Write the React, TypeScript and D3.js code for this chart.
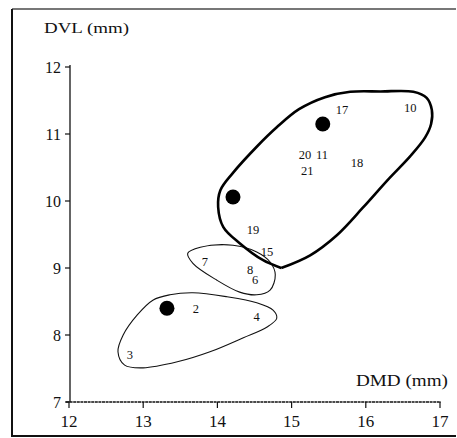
import React from "react";
import * as d3 from "d3";

const W = 457;
const H = 438;

const xTicks = [12, 13, 14, 15, 16, 17];
const yTicks = [7, 8, 9, 10, 11, 12];

// Contour of group A (thick outline), from the lower vertex around and back
const groupA: [number, number][] = [
  [14.86, 9.0], [15.25, 9.19], [15.61, 9.49], [15.96, 9.9], [16.3, 10.32],
  [16.6, 10.67], [16.8, 10.95], [16.88, 11.15], [16.89, 11.36],
  [16.82, 11.54], [16.64, 11.63], [16.2, 11.635], [15.79, 11.63], [15.45, 11.55],
  [15.1, 11.37], [14.8, 11.1], [14.53, 10.81], [14.21, 10.42], [14.04, 10.16],
  [14.01, 9.91], [14.08, 9.61], [14.3, 9.37], [14.61, 9.12], [14.86, 9.0],
];

// Contour of group B (7, 8, 6)
const groupB: [number, number][] = [
  [13.6, 9.22], [13.77, 9.31], [14.21, 9.34], [14.53, 9.24], [14.71, 9.09],
  [14.78, 8.9], [14.71, 8.67], [14.53, 8.6], [14.3, 8.64], [13.99, 8.82],
  [13.67, 9.07],
];

// Contour of group C (2, 4, 3)
const groupC: [number, number][] = [
  [12.66, 7.75], [12.75, 7.55], [13.0, 7.51], [13.46, 7.6], [13.9, 7.75],
  [14.35, 7.96], [14.67, 8.12], [14.8, 8.25], [14.75, 8.37], [14.53, 8.48],
  [14.13, 8.57], [13.67, 8.63], [13.36, 8.6], [13.13, 8.52], [12.92, 8.3],
  [12.73, 8.0],
];

// Filled dots
const dots: [number, number][] = [
  [13.32, 8.4], [14.21, 10.06], [15.42, 11.15],
];

// Specimen numbers
const labelText = ["17", "10", "20", "11", "21", "18", "19", "15", "8", "6", "7", "2", "4", "3"];
const labelX = [15.68, 16.6, 15.18, 15.41, 15.21, 15.88, 14.48, 14.67, 14.44, 14.51, 13.83, 13.71, 14.53, 12.82];
const labelY = [11.37, 11.4, 10.69, 10.69, 10.45, 10.57, 9.57, 9.24, 8.97, 8.82, 9.09, 8.39, 8.28, 7.7];

export default function App() {
  const x = d3.scaleLinear().domain([12, 17]).range([69, 440]);
  const y = d3.scaleLinear().domain([7, 12]).range([402, 67]);

  const openLine = d3
    .line<[number, number]>()
    .x((d) => x(d[0]))
    .y((d) => y(d[1]))
    .curve(d3.curveCatmullRom.alpha(0.5));
  const closedLine = d3
    .line<[number, number]>()
    .x((d) => x(d[0]))
    .y((d) => y(d[1]))
    .curve(d3.curveCatmullRomClosed.alpha(0.5));

  const font = "'Liberation Serif', 'Times New Roman', serif";

  return (
    <div style={{ position: "absolute", left: 0, top: 0 }}>
      <svg width={W} height={H} style={{ display: "block" }}>
        <rect x={0} y={0} width={W} height={H} fill="#fff" />
        {/* frame */}
        <line x1={12} y1={9} x2={W - 1} y2={9} stroke="#777" strokeWidth={2} />
        <line x1={12} y1={9} x2={12} y2={437} stroke="#111" strokeWidth={2} />
        <line x1={12} y1={436} x2={W - 1} y2={436} stroke="#111" strokeWidth={2} />

        {/* y axis */}
        <line x1={70} y1={65} x2={70} y2={402} stroke="#111" strokeWidth={1.3} />
        {yTicks.map((t) => (
          <g key={"y" + t}>
            <line x1={65} x2={70} y1={y(t)} y2={y(t)} stroke="#111" strokeWidth={1.2} />
            <text
              x={61}
              y={y(t)}
              dy="0.35em"
              textAnchor="end"
              fontFamily={font}
              fontSize={16}
              fill="#111"
            >
              {t}
            </text>
          </g>
        ))}

        {/* x axis */}
        <line x1={66} y1={402} x2={441} y2={402} stroke="#111" strokeWidth={1.3} strokeDasharray="3 0.6" />
        {xTicks.map((t) => (
          <g key={"x" + t}>
            <line x1={x(t)} x2={x(t)} y1={402} y2={408} stroke="#111" strokeWidth={1.2} />
            <text
              x={x(t)}
              y={427}
              textAnchor="middle"
              fontFamily={font}
              fontSize={17}
              fill="#111"
            >
              {t}
            </text>
          </g>
        ))}

        {/* axis titles */}
        <text x={44} y={33} fontFamily={font} fontSize={14} textLength={85} lengthAdjust="spacingAndGlyphs" fill="#111">
          DVL (mm)
        </text>
        <text x={356} y={386} fontFamily={font} fontSize={16} textLength={92} lengthAdjust="spacingAndGlyphs" fill="#111">
          DMD (mm)
        </text>

        {/* contours */}
        <path d={closedLine(groupC) || ""} fill="none" stroke="#111" strokeWidth={1.1} />
        <path d={closedLine(groupB) || ""} fill="none" stroke="#111" strokeWidth={1.1} />
        <path d={openLine(groupA) || ""} fill="none" stroke="#000" strokeWidth={2.6} strokeLinejoin="miter" />

        {/* dots */}
        {dots.map((d, i) => (
          <circle key={"d" + i} cx={x(d[0])} cy={y(d[1])} r={7.5} fill="#000" />
        ))}

        {/* specimen numbers */}
        {labelText.map((s, i) => (
          <text
            key={"l" + i}
            x={x(labelX[i])}
            y={y(labelY[i])}
            dy="0.35em"
            textAnchor="middle"
            fontFamily={font}
            fontSize={12.5}
            fill="#111"
          >
            {s}
          </text>
        ))}
      </svg>
    </div>
  );
}
